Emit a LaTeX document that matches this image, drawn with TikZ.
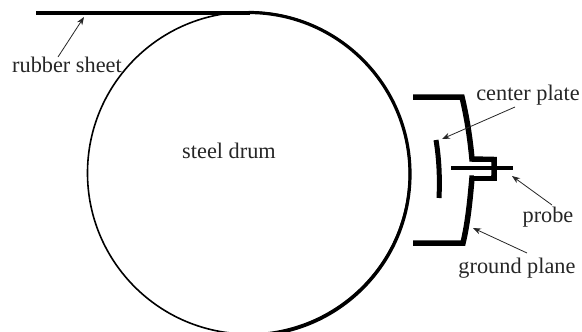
\documentclass[tikz,border=0pt]{standalone}
\usepackage{fontspec}
\setmainfont{Liberation Serif}
\usetikzlibrary{arrows.meta}
\begin{document}
\begin{tikzpicture}[x=1pt,y=-1pt,
  lbl/.style={inner sep=0pt,font=\fontsize{22.3}{24}\selectfont,text=black!85},
  heavy/.style={line width=5.5pt,line join=miter},
  pointer/.style={line width=0.8pt,black!85,-{Stealth[length=8pt,width=6pt]}}]
\useasboundingbox (0,0) rectangle (582,332);
\clip (0,0) rectangle (582,332);
% drum
\draw[line width=1.6pt] (248.5,173) circle [radius=161];
% rubber sheet: straight run, then wrapping the drum
\draw[line width=4pt] (36,13) -- (250,13);
\draw[line width=3.2pt] (248.5,12.5) arc [start angle=-90, end angle=90, radius=161.5];
% ground plane
\draw[heavy] (413,97) -- (462,97) .. controls (467,118) and (470,138) .. (472,159) -- (494,159.5) -- (494,178) -- (472,178) .. controls (470,200) and (468,222) .. (463,243) -- (413,243);
\fill[white] (474,162) rectangle (491,175.5);
% probe
\draw[line width=4.5pt] (451,168) -- (513,168);
% center plate
\draw[line width=5pt] (436,140) .. controls (439,158) and (440,178) .. (439,198);
% labels
\node[lbl] (drum) at (229,151) {steel drum};
\node[lbl] (rubber) at (67,65) {rubber sheet};
\node[lbl] (center) at (528,95) {center plate};
\node[lbl] (probe) at (548,217) {probe};
\node[lbl] (ground) at (517,268) {ground plane};
% arrow ends
\coordinate (tRubber) at (84,17);
\coordinate (tCenter) at (442,139);
\coordinate (tProbe) at (512,176);
\coordinate (tGround) at (473,228);
\coordinate (sRubber) at (58,57);
\coordinate (sCenter) at (515,107);
\coordinate (sProbe) at (552,205);
\coordinate (sGround) at (527,253);
\draw[pointer] (sRubber) -- (tRubber);
\draw[pointer] (sCenter) -- (tCenter);
\draw[pointer] (sProbe) -- (tProbe);
\draw[pointer] (sGround) -- (tGround);
\end{tikzpicture}
\end{document}
